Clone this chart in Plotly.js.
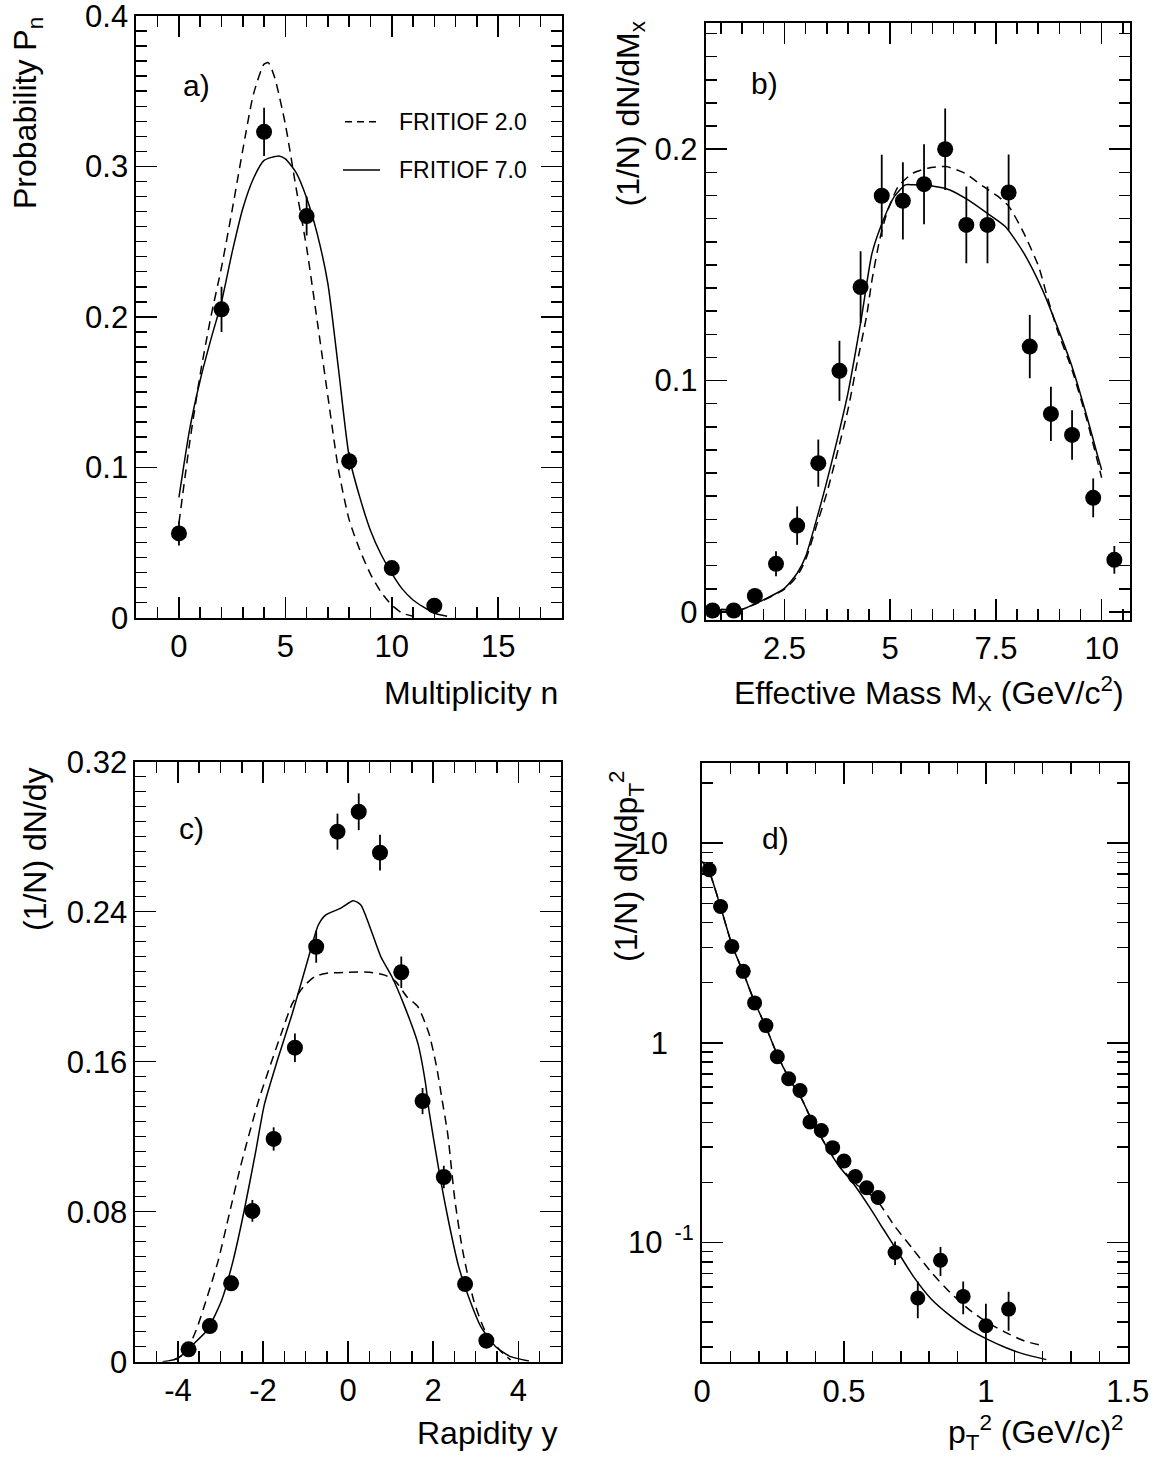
<!DOCTYPE html>
<html>
<head>
<meta charset="utf-8">
<script src="https://cdn.plot.ly/plotly-3.0.1.min.js"></script>
<style>html,body{margin:0;padding:0;background:#fff;}</style>
</head>
<body>
<div id="chart" style="width:1161px;height:1459px;"></div>
<script>
// ---------- DATA ----------
const seriesNames = ["FRITIOF 2.0", "FRITIOF 7.0"];

// a) multiplicity
const multN = [0, 2, 4, 6, 8, 10, 12];
const multP = [0.056, 0.205, 0.323, 0.267, 0.104, 0.033, 0.008];
const multErr = [0.008, 0.015, 0.016, 0.013, 0.006, 0.004, 0.003];
const multF2x = [0, 0.5, 1, 1.5, 2, 2.5, 3, 3.5, 4, 4.2, 4.5, 5, 5.5, 6, 6.5, 7, 7.5, 8, 8.5, 9, 9.5, 10, 10.5, 11];
const multF2y = [0.063, 0.116, 0.162, 0.200, 0.233, 0.271, 0.311, 0.348, 0.368, 0.369, 0.359, 0.328, 0.286, 0.246, 0.197, 0.147, 0.098, 0.065, 0.045, 0.029, 0.017, 0.0084, 0.003, 0.001];
const multF7x = [0, 0.5, 1, 1.5, 2, 2.5, 3, 3.5, 4, 4.7, 5, 5.5, 6, 6.5, 7, 7.5, 8, 8.5, 9, 9.5, 10, 10.5, 11, 11.5, 12, 12.6];
const multF7y = [0.080, 0.125, 0.158, 0.185, 0.210, 0.243, 0.272, 0.292, 0.304, 0.307, 0.305, 0.296, 0.279, 0.255, 0.222, 0.165, 0.107, 0.080, 0.058, 0.042, 0.0295, 0.019, 0.0118, 0.007, 0.003, 0.001];
const multXTicks = [0, 5, 10, 15];
const multYTicks = [0, 0.1, 0.2, 0.3, 0.4];
const multYText = ["0", "0.1", "0.2", "0.3", "0.4"];

// b) effective mass
const massX = [0.8, 1.3, 1.8, 2.3, 2.8, 3.3, 3.8, 4.3, 4.8, 5.3, 5.8, 6.3, 6.8, 7.3, 7.8, 8.3, 8.8, 9.3, 9.8, 10.3];
const massY = [0.0006, 0.0006, 0.0069, 0.0208, 0.0373, 0.0643, 0.1042, 0.1404, 0.1799, 0.1777, 0.1849, 0.2000, 0.1673, 0.1673, 0.1813, 0.1147, 0.0856, 0.0765, 0.0493, 0.0225];
const massErr = [0.001, 0.001, 0.003, 0.0054, 0.0083, 0.0102, 0.013, 0.0155, 0.0177, 0.0167, 0.0173, 0.0176, 0.0166, 0.0166, 0.0164, 0.0137, 0.0117, 0.0107, 0.0084, 0.006];
const massF2x = [1.0, 1.5, 2.0, 2.5, 2.8, 3.0, 3.3, 3.5, 4.0, 4.2, 4.44, 4.57, 4.75, 4.92, 5.19, 5.54, 5.89, 6.32, 6.76, 7.2, 7.55, 7.81, 8.16, 8.51, 8.69, 8.95, 9.3, 9.65, 10.0];
const massF2y = [0.001, 0.0012, 0.005, 0.0098, 0.0155, 0.0225, 0.0398, 0.0513, 0.0873, 0.106, 0.1277, 0.1435, 0.1608, 0.1724, 0.1839, 0.1897, 0.1918, 0.1925, 0.1897, 0.1839, 0.1796, 0.1752, 0.1637, 0.1493, 0.1378, 0.1219, 0.1046, 0.083, 0.058];
const massF7x = [1.0, 1.5, 2.0, 2.5, 2.8, 3.0, 3.3, 3.5, 4.0, 4.31, 4.57, 4.84, 5.1, 5.36, 5.54, 6.06, 6.41, 6.85, 7.29, 7.72, 8.16, 8.6, 9.04, 9.3, 9.65, 9.91, 10.0];
const massF7y = [0.001, 0.0012, 0.0052, 0.0102, 0.0167, 0.0239, 0.0427, 0.0563, 0.0945, 0.126, 0.155, 0.1695, 0.1796, 0.1846, 0.1846, 0.1839, 0.1824, 0.178, 0.1724, 0.1666, 0.1551, 0.1392, 0.119, 0.106, 0.0845, 0.0671, 0.0614];
const massXTicks = [2.5, 5, 7.5, 10];
const massXText = ["2.5", "5", "7.5", "10"];
const massYTicks = [0, 0.1, 0.2];
const massYText = ["0", "0.1", "0.2"];

// c) rapidity
const rapX = [-3.75, -3.25, -2.75, -2.25, -1.75, -1.25, -0.75, -0.25, 0.25, 0.75, 1.25, 1.75, 2.25, 2.75, 3.25];
const rapY = [0.0066, 0.019, 0.0418, 0.0804, 0.1188, 0.1675, 0.2213, 0.2827, 0.2933, 0.2715, 0.2077, 0.139, 0.0985, 0.0414, 0.0112];
const rapErr = [0.003, 0.004, 0.004, 0.0058, 0.0062, 0.0076, 0.0085, 0.0096, 0.0098, 0.0095, 0.0084, 0.007, 0.006, 0.004, 0.003];
const rapF2x = [-4.1, -3.83, -3.57, -3.31, -3.05, -2.79, -2.53, -2.1, -1.57, -1.31, -1.05, -0.79, -0.53, 0, 0.51, 0.86, 1.12, 1.38, 1.64, 1.9, 2.08, 2.21, 2.34, 2.51, 2.69, 2.95, 3.21, 3.56, 3.82];
const rapF2y = [0.001, 0.0045, 0.0169, 0.0347, 0.0542, 0.0791, 0.104, 0.1396, 0.1751, 0.1911, 0.2, 0.2053, 0.2071, 0.2077, 0.2077, 0.2062, 0.2027, 0.1947, 0.1893, 0.1751, 0.1573, 0.1396, 0.1218, 0.0862, 0.0596, 0.0329, 0.0169, 0.0062, 0.0009];
const rapF7x = [-4.36, -4.0, -3.66, -3.31, -2.97, -2.7, -2.44, -2.18, -1.97, -1.66, -1.31, -0.97, -0.7, -0.53, -0.18, 0.12, 0.3, 0.51, 0.77, 1.03, 1.3, 1.64, 1.82, 1.9, 2.12, 2.34, 2.6, 2.86, 3.12, 3.47, 3.82, 4.25];
const rapF7y = [0, 0.0018, 0.0089, 0.0169, 0.0329, 0.0542, 0.0809, 0.1111, 0.137, 0.1609, 0.1858, 0.2125, 0.2329, 0.2382, 0.2418, 0.2459, 0.2436, 0.232, 0.216, 0.2053, 0.1911, 0.1698, 0.1485, 0.1342, 0.104, 0.0773, 0.0507, 0.0329, 0.0187, 0.008, 0.0027, 0.0004];
const rapXTicks = [-4, -2, 0, 2, 4];
const rapYTicks = [0, 0.08, 0.16, 0.24, 0.32];
const rapYText = ["0", "0.08", "0.16", "0.24", "0.32"];

// d) pT^2
const ptX = [0.025, 0.065, 0.105, 0.145, 0.185, 0.225, 0.265, 0.305, 0.345, 0.38, 0.42, 0.46, 0.5, 0.54, 0.58, 0.62, 0.68, 0.76, 0.84, 0.92, 1.0, 1.08];
const ptY = [7.36, 4.82, 3.04, 2.28, 1.585, 1.22, 0.851, 0.661, 0.577, 0.401, 0.364, 0.2985, 0.256, 0.214, 0.188, 0.168, 0.0891, 0.0527, 0.0815, 0.0537, 0.0383, 0.0464];
const ptErr = [0.3, 0.2, 0.12, 0.09, 0.06, 0.05, 0.035, 0.03, 0.03, 0.025, 0.022, 0.02, 0.018, 0.016, 0.015, 0.014, 0.012, 0.011, 0.0135, 0.010, 0.011, 0.0103];
const ptF2x = [0.0, 0.025, 0.065, 0.105, 0.145, 0.185, 0.225, 0.265, 0.305, 0.352, 0.385, 0.43, 0.482, 0.535, 0.613, 0.678, 0.743, 0.808, 0.874, 0.939, 1.004, 1.069, 1.134, 1.2];
const ptF2y = [8.1, 7.2, 4.8, 3.1, 2.25, 1.6, 1.2, 0.87, 0.67, 0.52, 0.413, 0.318, 0.245, 0.2, 0.1646, 0.121, 0.0926, 0.0708, 0.0562, 0.0464, 0.0398, 0.0355, 0.0322, 0.0304];
const ptF7x = [0.0, 0.025, 0.065, 0.105, 0.145, 0.185, 0.225, 0.265, 0.305, 0.352, 0.385, 0.43, 0.482, 0.535, 0.587, 0.639, 0.691, 0.743, 0.808, 0.874, 0.939, 1.004, 1.069, 1.134, 1.213];
const ptF7y = [8.1, 7.2, 4.8, 3.1, 2.25, 1.6, 1.2, 0.87, 0.67, 0.52, 0.413, 0.316, 0.2415, 0.1956, 0.1524, 0.1165, 0.0891, 0.0681, 0.052, 0.043, 0.0368, 0.0328, 0.0298, 0.0276, 0.0259];
const ptXTicks = [0, 0.5, 1, 1.5];
const ptXText = ["0", "0.5", "1", "1.5"];
const ptYTicks = [0.1, 1, 10];
const ptYBase = ["10", "1", "10"];
const ptYExp = ["-1", "", ""];

// ---------- LAYOUT HELPERS ----------
const W = 1161, H = 1459;
const fx = p => p / W;
const fy = p => 1 - p / H;
const FONT = "Liberation Sans, Arial, Helvetica, sans-serif";
const NB = "\u00A0";

// ROOT-style log labels: mantissa, with the exponent set well apart
const ptYText = ptYBase.map((b, i) => ptYExp[i] ? b + "<sup>" + NB + NB + ptYExp[i] + "</sup>" : b + NB.repeat(3));

function dataTrace(x, y, err, xa, ya, msize) {
  return {
    x: x, y: y, xaxis: xa, yaxis: ya, type: "scatter", mode: "markers",
    marker: {color: "black", size: msize},
    error_y: {type: "data", array: err, visible: true, color: "black", thickness: 1.8, width: 0},
    showlegend: false, hoverinfo: "x+y"
  };
}
function curve(x, y, xa, ya, dashed, name) {
  return {
    x: x, y: y, xaxis: xa, yaxis: ya, type: "scatter", mode: "lines", name: name,
    line: {color: "black", width: 1.5, dash: dashed ? "9px,6px" : "solid", shape: "spline", smoothing: 0.6},
    showlegend: false
  };
}

const traces = [
  curve(multF2x, multF2y, "x", "y", true, seriesNames[0]),
  curve(multF7x, multF7y, "x", "y", false, seriesNames[1]),
  dataTrace(multN, multP, multErr, "x", "y", 16),
  curve(massF2x, massF2y, "x2", "y2", true, seriesNames[0]),
  curve(massF7x, massF7y, "x2", "y2", false, seriesNames[1]),
  dataTrace(massX, massY, massErr, "x2", "y2", 16),
  curve(rapF2x, rapF2y, "x3", "y3", true, seriesNames[0]),
  curve(rapF7x, rapF7y, "x3", "y3", false, seriesNames[1]),
  dataTrace(rapX, rapY, rapErr, "x3", "y3", 16),
  curve(ptF2x, ptF2y, "x4", "y4", true, seriesNames[0]),
  curve(ptF7x, ptF7y, "x4", "y4", false, seriesNames[1]),
  dataTrace(ptX, ptY, ptErr, "x4", "y4", 15)
];

function axis(extra) {
  const base = {
    showline: true, linecolor: "black", linewidth: 2, mirror: "allticks",
    ticks: "inside", ticklen: 21, tickwidth: 1.5, tickcolor: "black",
    showgrid: false, zeroline: false, fixedrange: true,
    tickfont: {family: FONT, size: 31, color: "black"},
    tickmode: "array", ticklabeloverflow: "allow"
  };
  return Object.assign(base, extra);
}
function minor(opts) {
  return Object.assign({ticks: "inside", ticklen: 11, tickwidth: 1.5, tickcolor: "black", showgrid: false}, opts);
}
const logMinor = [];
[0.01, 0.1, 1, 10].forEach(d => { for (let k = 2; k <= 9; k++) logMinor.push(d * k); });

const layout = {
  width: W, height: H,
  margin: {l: 0, r: 0, t: 0, b: 0},
  paper_bgcolor: "white", plot_bgcolor: "white",
  font: {family: FONT, color: "black"},
  showlegend: false,
  xaxis: axis({domain: [fx(136.4), fx(562)], range: [-2, 18], anchor: "y",
    tickvals: multXTicks, ticktext: multXTicks.map(String), minor: minor({dtick: 1, tick0: 0})}),
  yaxis: axis({domain: [fy(617.7), fy(16)], range: [0, 0.4], anchor: "x",
    tickvals: multYTicks, ticktext: multYText, minor: minor({dtick: 0.01, tick0: 0})}),
  xaxis2: axis({domain: [fx(705.8), fx(1130)], range: [0.64, 10.67], anchor: "y2",
    tickvals: massXTicks, ticktext: massXText, minor: minor({dtick: 0.5, tick0: 0})}),
  yaxis2: axis({domain: [fy(620), fy(22.7)], range: [-0.0035, 0.2547], anchor: "x2",
    tickvals: massYTicks, ticktext: massYText, minor: minor({dtick: 0.01, tick0: 0})}),
  xaxis3: axis({domain: [fx(135.4), fx(560.8)], range: [-5, 5], anchor: "y3",
    tickvals: rapXTicks, ticktext: rapXTicks.map(String), minor: minor({dtick: 0.5, tick0: 0})}),
  yaxis3: axis({domain: [fy(1361.7), fy(761.7)], range: [0, 0.32], anchor: "x3",
    tickvals: rapYTicks, ticktext: rapYText, minor: minor({dtick: 0.008, tick0: 0})}),
  xaxis4: axis({domain: [fx(702.1), fx(1127.8)], range: [0, 1.5], anchor: "y4",
    tickvals: ptXTicks, ticktext: ptXText, minor: minor({dtick: 0.1, tick0: 0})}),
  yaxis4: axis({domain: [fy(1362.3), fy(763.3)], type: "log", range: [-1.6, 1.4], anchor: "x4",
    tickvals: ptYTicks, ticktext: ptYText, minor: minor({tickmode: "array", tickvals: logMinor})}),
  shapes: [
    {type: "line", xref: "paper", yref: "paper", x0: fx(345), x1: fx(378), y0: fy(121.7), y1: fy(121.7),
     line: {color: "black", width: 1.5, dash: "7px,5px"}},
    {type: "line", xref: "paper", yref: "paper", x0: fx(343), x1: fx(380), y0: fy(170), y1: fy(170),
     line: {color: "black", width: 1.5}}
  ],
  annotations: []
};

function ann(text, x, y, opts) {
  layout.annotations.push(Object.assign({
    text: text, x: fx(x), y: fy(y), xref: "paper", yref: "paper", showarrow: false,
    font: {family: FONT, size: 32, color: "black"}
  }, opts));
}
// legend text
ann(seriesNames[0], 396.7, 121.7, {xanchor: "left", yanchor: "middle", font: {family: FONT, size: 23, color: "black"}});
ann(seriesNames[1], 396.7, 170, {xanchor: "left", yanchor: "middle", font: {family: FONT, size: 23, color: "black"}});
// panel labels
const labelFont = {family: FONT, size: 30, color: "black"};
ann("a)", 196, 85, {xanchor: "center", yanchor: "middle", font: labelFont});
ann("b)", 764, 84, {xanchor: "center", yanchor: "middle", font: labelFont});
ann("c)", 191, 828, {xanchor: "center", yanchor: "middle", font: labelFont});
ann("d)", 775, 838, {xanchor: "center", yanchor: "middle", font: labelFont});
// axis titles (y, rotated)
ann("Probability P<sub>n</sub>", 28, 15, {textangle: -90, xanchor: "center", yanchor: "top"});
ann("(1/N) dN/dM<sub>x</sub>", 630, 20, {textangle: -90, xanchor: "center", yanchor: "top"});
ann("(1/N) dN/dy", 35, 765, {textangle: -90, xanchor: "center", yanchor: "top"});
ann("(1/N) dN/dp<sub>T</sub><sup>2</sup>", 626, 768, {textangle: -90, xanchor: "center", yanchor: "top"});
// axis titles (x)
ann("Multiplicity n", 560.4, 693, {xanchor: "right", yanchor: "middle"});
ann("Effective Mass M<sub>X</sub> (GeV/c<sup>2</sup>)", 1125.6, 693, {xanchor: "right", yanchor: "middle"});
ann("Rapidity y", 560.4, 1433, {xanchor: "right", yanchor: "middle"});
ann("p<sub>T</sub><sup>2</sup> (GeV/c)<sup>2</sup>", 1125.6, 1432, {xanchor: "right", yanchor: "middle"});

Plotly.newPlot("chart", traces, layout, {staticPlot: true, displayModeBar: false});
</script>
</body>
</html>
